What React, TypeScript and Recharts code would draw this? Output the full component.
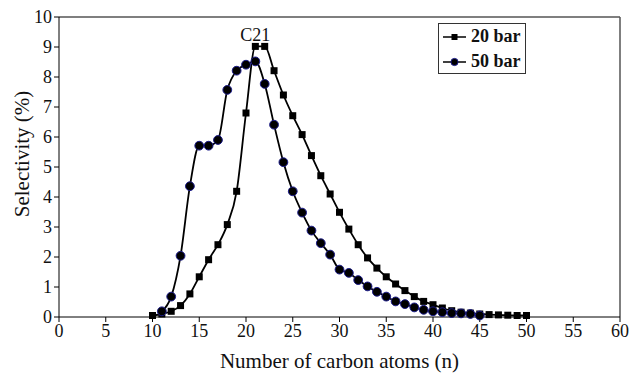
import { Line, LineChart, ReferenceDot, ReferenceLine, XAxis, YAxis } from "recharts";

const carbonNumbers = [
  10, 11, 12, 13, 14, 15, 16, 17, 18, 19, 20, 21, 22, 23, 24, 25, 26, 27, 28, 29, 30,
  31, 32, 33, 34, 35, 36, 37, 38, 39, 40, 41, 42, 43, 44, 45, 46, 47, 48, 49, 50,
];

const bar20 = [
  0.05, 0.1, 0.19, 0.38, 0.77, 1.34, 1.91, 2.41, 3.08, 4.19, 6.8, 9.02, 9.02, 8.21, 7.4, 6.71,
  6.08, 5.38, 4.71, 4.1, 3.49, 2.93, 2.41, 1.97, 1.63, 1.34, 1.1, 0.88, 0.68, 0.52, 0.41,
  0.3, 0.21, 0.16, 0.13, 0.1, 0.08, 0.07, 0.06, 0.05, 0.05,
];

// 50 bar series stops at C45
const bar50 = [
  null, 0.19, 0.68, 2.04, 4.36, 5.71, 5.71, 5.9, 7.57, 8.21, 8.41, 8.52, 7.77, 6.41, 5.16, 4.19,
  3.48, 2.88, 2.46, 2.08, 1.58, 1.47, 1.23, 1.02, 0.84, 0.68, 0.52, 0.43, 0.32, 0.24, 0.19,
  0.16, 0.13, 0.12, 0.1, 0.05, null, null, null, null, null,
];

const xTicks = [0, 5, 10, 15, 20, 25, 30, 35, 40, 45, 50, 55, 60];
const yTicks = [0, 1, 2, 3, 4, 5, 6, 7, 8, 9, 10];

const data = carbonNumbers.map((n, i) => ({ n, bar20: bar20[i], bar50: bar50[i] }));

const FONT = '"Liberation Serif", "Times New Roman", serif';
const CIRCLE_STROKE = "#1c1c8a";
const TEXT = "#111";

function SquareDot(props: any) {
  const { cx, cy } = props;
  if (cx == null || cy == null) return null;
  return <rect x={cx - 3.5} y={cy - 3.5} width={7} height={7} fill="#000" />;
}

function CircleDot(props: any) {
  const { cx, cy } = props;
  if (cx == null || cy == null) return null;
  return <circle cx={cx} cy={cy} r={4.4} fill="#000" stroke={CIRCLE_STROKE} strokeWidth={1} />;
}

function YTitle() {
  return (
    <text x={29} y={154} transform="rotate(-90 29 154)" textAnchor="middle" fill={TEXT} fontSize={21} fontFamily={FONT}>
      Selectivity (%)
    </text>
  );
}

function LegendBox() {
  const row = (label: string, circle: boolean) => (
    <div style={{ display: "flex", alignItems: "center", height: 25 }}>
      <svg width={26} height={12} style={{ marginRight: 3 }}>
        <line x1={1} y1={6} x2={24} y2={6} stroke="#000" strokeWidth={1.5} />
        {circle ? (
          <circle cx={12.5} cy={6} r={3.6} fill="#000" stroke={CIRCLE_STROKE} />
        ) : (
          <rect x={9.5} y={3} width={6} height={6} fill="#000" />
        )}
      </svg>
      <span>{label}</span>
    </div>
  );
  return (
    <div
      style={{
        position: "absolute",
        left: 438,
        top: 23,
        width: 88,
        height: 51,
        border: "1.5px solid #333",
        padding: "0 0 0 3px",
        boxSizing: "border-box",
        fontWeight: "bold",
        fontSize: 18,
        color: TEXT,
        background: "#fff",
      }}
    >
      {row("20 bar", false)}
      {row("50 bar", true)}
    </div>
  );
}

export default function App() {
  return (
    <div
      style={{
        position: "fixed",
        left: 0,
        top: 0,
        width: 629,
        height: 373,
        background: "#fff",
        fontFamily: FONT,
      }}
    >
      <LineChart
        width={629}
        height={373}
        data={data}
        margin={{ top: 17, right: 9, bottom: 0, left: 0 }}
        style={{ fontFamily: FONT }}
      >
        <XAxis
          dataKey="n"
          type="number"
          domain={[0, 60]}
          ticks={xTicks}
          interval={0}
          stroke="#000"
          tickSize={5}
          height={56}
          tick={{ fill: TEXT, fontSize: 18 }}
          label={{
            value: "Number of carbon atoms (n)",
            position: "insideBottom",
            offset: 5,
            fill: TEXT,
            fontSize: 21,
          }}
        />
        <YAxis
          type="number"
          domain={[0, 10]}
          ticks={yTicks}
          interval={0}
          stroke="#000"
          tickSize={5}
          width={59}
          tick={{ fill: TEXT, fontSize: 18 }}
          label={{ content: () => <YTitle /> }}
        />
        <ReferenceLine y={10} stroke="#555" strokeWidth={1.5} />
        <ReferenceLine x={60} stroke="#555" strokeWidth={1.5} />
        <Line
          type="monotone"
          dataKey="bar20"
          name="20 bar"
          stroke="#000"
          strokeWidth={1.8}
          dot={<SquareDot />}
          activeDot={false}
          isAnimationActive={false}
        />
        <Line
          type="monotone"
          dataKey="bar50"
          name="50 bar"
          stroke="#000"
          strokeWidth={1.8}
          dot={<CircleDot />}
          activeDot={false}
          connectNulls={false}
          isAnimationActive={false}
        />
        <ReferenceDot
          x={21}
          y={9.02}
          r={0}
          fill="none"
          stroke="none"
          label={{ value: "C21", position: "top", offset: 5, fill: TEXT, fontSize: 18 }}
        />
      </LineChart>
      <LegendBox />
    </div>
  );
}
